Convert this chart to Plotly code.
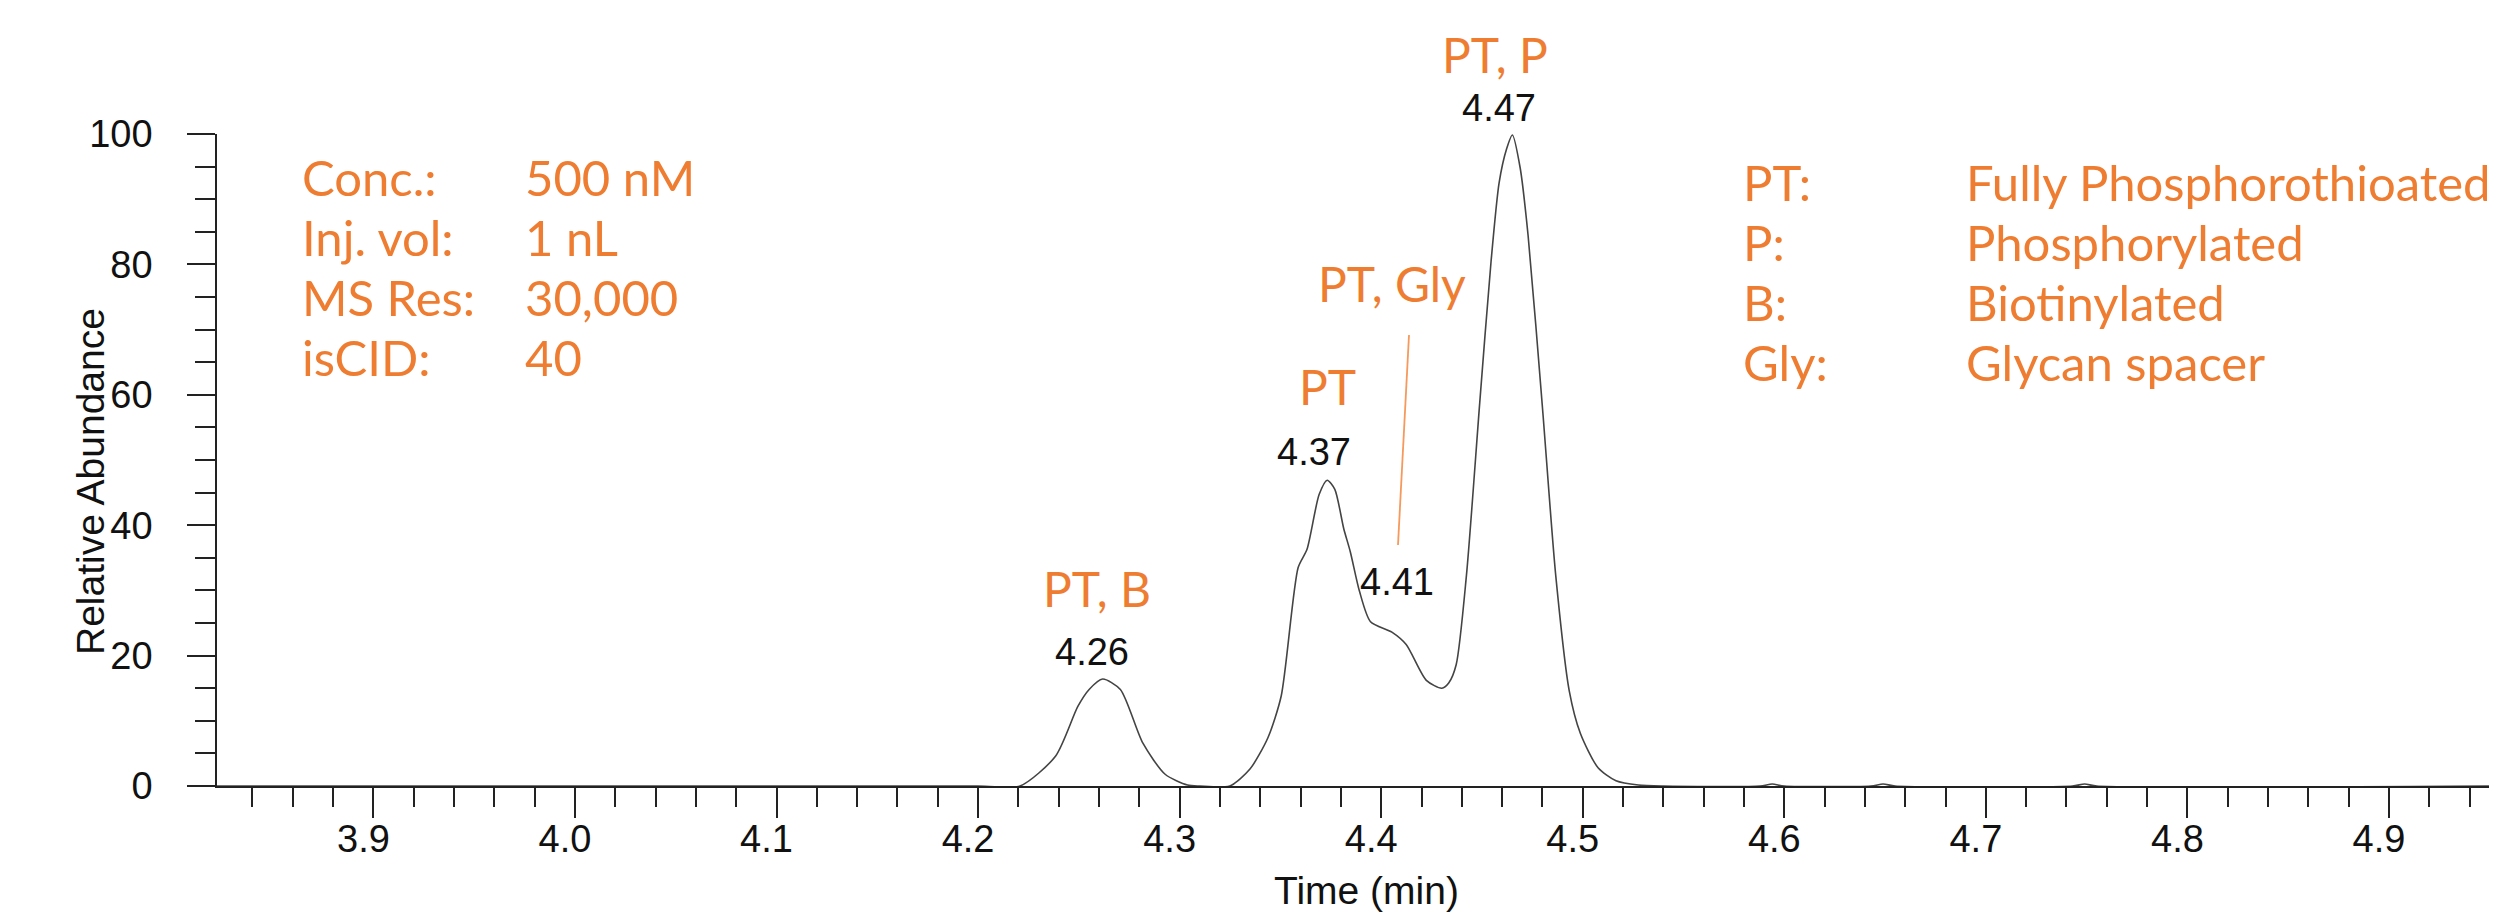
import plotly.graph_objects as go

# ---- data ----
time_min = [3.8224, 4.2000, 4.2208, 4.2385, 4.2495, 4.2551, 4.2618, 4.2706, 4.2817,
            4.2928, 4.3039, 4.3100, 4.3249, 4.3349, 4.3438, 4.3504, 4.3588, 4.3632,
            4.3692, 4.3732, 4.3770, 4.3814, 4.3847, 4.3892, 4.3947, 4.4053, 4.4124,
            4.4224, 4.4301, 4.4335, 4.4372, 4.4423, 4.4489, 4.4545, 4.4585, 4.4622,
            4.4651, 4.4689, 4.4729, 4.4800, 4.4866, 4.4933, 4.4988, 4.5076, 4.5165,
            4.5276, 4.5400, 4.5880, 4.5940, 4.6000, 4.6430, 4.6490, 4.6550, 4.7430,
            4.7490, 4.7550, 4.9536]
abundance = [0.0, 0.0, 0.0, 4.6, 12.2, 14.8, 16.4, 14.8, 6.6,
             1.8, 0.15, 0.0, 0.0, 2.6, 7.4, 13.8, 33.5, 36.3,
             44.7, 46.9, 45.5, 39.5, 35.9, 29.9, 25.2, 23.6, 21.7,
             16.2, 15.0, 15.8, 18.6, 32.3, 58.8, 80.4, 92.5, 97.7,
             99.85, 94.9, 84.4, 58.1, 32.3, 14.6, 8.1, 2.8, 0.8,
             0.15, 0.0, 0.0, 0.3, 0.0, 0.0, 0.3, 0.0, 0.0,
             0.3, 0.0, 0.0]

peak_rt_labels = ["4.26", "4.37", "4.41", "4.47"]
peak_names = ["PT, B", "PT", "PT, Gly", "PT, P"]

cond_keys = ["Conc.:", "Inj. vol:", "MS Res:", "isCID:"]
cond_vals = ["500 nM", "1 nL", "30,000", "40"]
abbr_keys = ["PT:", "P:", "B:", "Gly:"]
abbr_vals = ["Fully Phosphorothioated", "Phosphorylated", "Biotinylated", "Glycan spacer"]

x_tick_vals = [3.9, 4.0, 4.1, 4.2, 4.3, 4.4, 4.5, 4.6, 4.7, 4.8, 4.9]
y_tick_vals = [0, 20, 40, 60, 80, 100]

# ---- geometry (screen pixels; page body has an 8 px margin) ----
OFF = 8
SW, SH = 2497, 914
W, H = SW - OFF, SH - OFF
PL, PR, PT_, PB = 217, 2497, 134, 786          # plot area on screen
L, R, T, B = PL - OFF, W - (PR - OFF), PT_ - OFF, H - (PB - OFF)
PW, PH = PR - PL, PB - PT_
ORANGE = "#EE7D31"
AX = "#222222"
ARIAL = "Liberation Sans, Arial, sans-serif"
LATO = "Lato, sans-serif"


def px(xs):
    return (xs - PL) / PW


def py(ys):
    return (PB - ys) / PH


fig = go.Figure()
fig.add_trace(go.Scatter(
    x=time_min, y=abundance, mode="lines",
    line=dict(color="#444444", width=1.6, shape="spline", smoothing=0.7),
    hoverinfo="x+y", showlegend=False, cliponaxis=False,
))

ann = []
# black retention-time labels (screen pixel centres)
rt_pos = [(1092, 652), (1314, 452), (1397, 582), (1499, 108)]
for txt, (x0, y0) in zip(peak_rt_labels, rt_pos):
    ann.append(dict(x=px(x0), y=py(y0), xref="paper", yref="paper", text=txt,
                    showarrow=False, xanchor="center", yanchor="middle",
                    font=dict(family=ARIAL, size=38, color="#111111")))
# orange peak names
nm_pos = [(1097, 592), (1327, 390), (1392, 287), (1495, 58)]
for txt, (x0, y0) in zip(peak_names, nm_pos):
    ann.append(dict(x=px(x0), y=py(y0 - 4), xref="paper", yref="paper", text=txt,
                    showarrow=False, xanchor="center", yanchor="middle",
                    font=dict(family=LATO, size=48, color=ORANGE)))

FS = 49
# left condition block
left_y = [178, 238, 298, 358]
for k, v, yy in zip(cond_keys, cond_vals, left_y):
    ann.append(dict(x=px(300), y=py(yy - 1), xref="paper", yref="paper", text=k,
                    showarrow=False, xanchor="left", yanchor="middle",
                    font=dict(family=LATO, size=FS, color=ORANGE)))
    ann.append(dict(x=px(523), y=py(yy - 1), xref="paper", yref="paper", text=v,
                    showarrow=False, xanchor="left", yanchor="middle",
                    font=dict(family=LATO, size=FS, color=ORANGE)))
# right abbreviations block
right_y = [183, 243, 303, 363]
for k, v, yy in zip(abbr_keys, abbr_vals, right_y):
    ann.append(dict(x=px(1741), y=py(yy - 1), xref="paper", yref="paper", text=k,
                    showarrow=False, xanchor="left", yanchor="middle",
                    font=dict(family=LATO, size=FS, color=ORANGE)))
    ann.append(dict(x=px(1964), y=py(yy - 1), xref="paper", yref="paper", text=v,
                    showarrow=False, xanchor="left", yanchor="middle",
                    font=dict(family=LATO, size=FS, color=ORANGE)))

# axis titles
ann.append(dict(x=px(90), y=py(482), xref="paper", yref="paper", text="Relative Abundance",
                showarrow=False, textangle=-90, xanchor="center", yanchor="middle",
                font=dict(family=ARIAL, size=39, color="#111111")))
ann.append(dict(x=px(1366), y=py(890), xref="paper", yref="paper", text="Time (min)",
                showarrow=False, xanchor="center", yanchor="middle",
                font=dict(family=ARIAL, size=39, color="#111111")))

shapes = [dict(type="line", xref="paper", yref="paper",
               x0=px(1409), y0=py(335), x1=px(1398), y1=py(545),
               line=dict(color="#F59A5C", width=1.8))]

fig.update_layout(
    width=W, height=H,
    margin=dict(l=L, r=R, t=T, b=B, pad=0),
    paper_bgcolor="white", plot_bgcolor="white",
    annotations=ann, shapes=shapes,
    xaxis=dict(range=[3.8224, 4.9536], tickmode="array", tickvals=x_tick_vals,
               ticktext=[f"{v:.1f}" for v in x_tick_vals],
               ticks="outside", ticklen=30, tickwidth=1.5, tickcolor=AX,
               showline=True, linecolor=AX, linewidth=1.5, showgrid=False, zeroline=False,
               ticklabelshift=-10, ticklabelstandoff=-11,
               tickfont=dict(family=ARIAL, size=38, color="#111111"),
               minor=dict(tickmode="linear", tick0=3.8, dtick=0.02, ticks="outside",
                          ticklen=19, tickwidth=1.5, tickcolor=AX, showgrid=False)),
    yaxis=dict(range=[0, 100], tickmode="array", tickvals=y_tick_vals,
               ticks="outside", ticklen=28, tickwidth=1.5, tickcolor=AX,
               showline=True, linecolor=AX, linewidth=1.5, showgrid=False, zeroline=False,
               ticklabelstandoff=27,
               tickfont=dict(family=ARIAL, size=38, color="#111111"),
               minor=dict(tickmode="linear", tick0=0, dtick=5, ticks="outside",
                          ticklen=20, tickwidth=1.5, tickcolor=AX, showgrid=False)),
)

fig.write_html("out.html")
